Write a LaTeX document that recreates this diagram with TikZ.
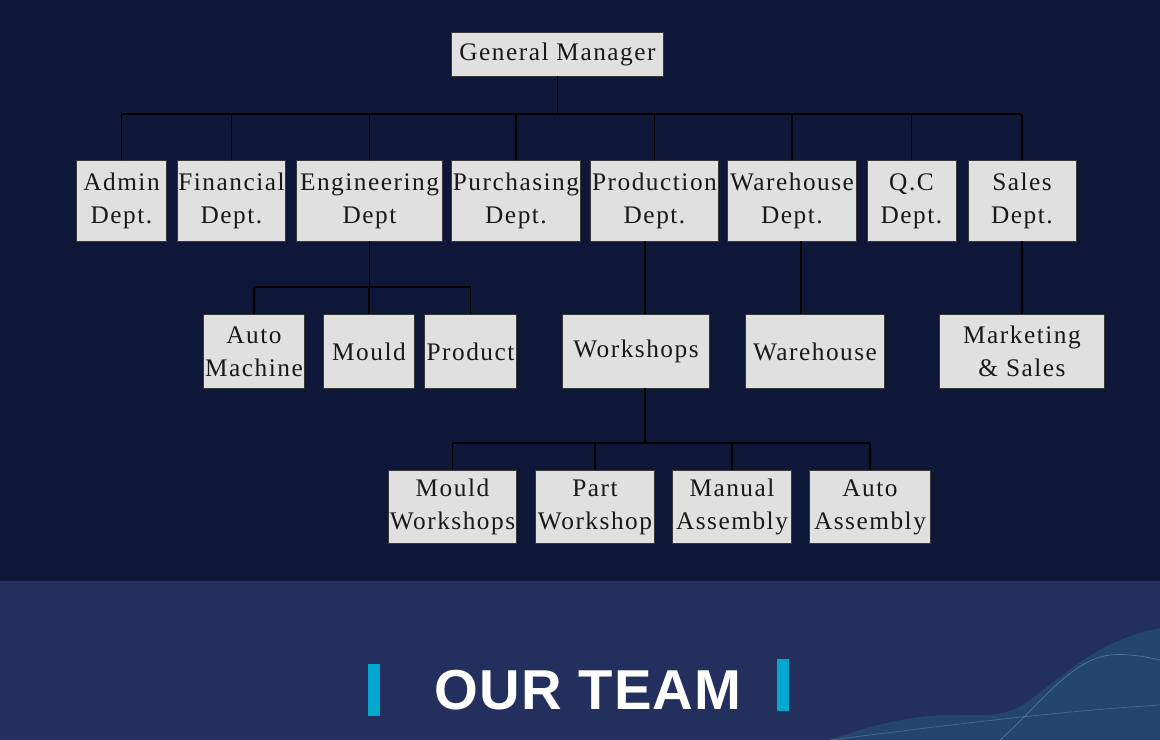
\documentclass[tikz,border=0pt]{standalone}
\usepackage{fontspec}
\usepackage{xcolor}
\usepackage{tikz}
\usetikzlibrary{positioning, calc}
\newfontfamily\boxfont[LetterSpace=6]{Liberation Serif}
\newfontfamily\teamfont[LetterSpace=2]{Liberation Sans}
\definecolor{nightblue}{RGB}{14, 23, 55}
\definecolor{bandblue}{RGB}{35, 47, 92}
\definecolor{boxgray}{RGB}{224, 224, 224}
\definecolor{edgegray}{RGB}{55, 55, 55}
\definecolor{barcyan}{RGB}{0, 168, 208}
\definecolor{waveteal}{RGB}{40, 112, 138}
\tikzstyle{unit} = [
    rectangle,
    inner sep=0pt,
    align=center,
    draw=edgegray,
    line width=0.7pt,
    fill=boxgray,
    text=black!90,
    font=\boxfont\fontsize{18}{23.5}\selectfont
]
\tikzstyle{link} = [
    line width=0.9pt,
    color=black
]

\begin{document}
\begin{tikzpicture}[x=0.025cm, y=-0.025cm]
        \useasboundingbox (0,0) rectangle (1160,740);
        % Background
        \fill[nightblue] (0,0) rectangle (1160,581);
        \fill[bandblue] (0,581) rectangle (1160,740);
        \fill[waveteal, opacity=0.35] (830,740) .. controls (880,722) and (920,714) .. (960,715)
            .. controls (1000,716) and (1010,714) .. (1030,700)
            .. controls (1070,670) and (1100,640) .. (1160,628) -- (1160,740) -- cycle;
        \draw[waveteal!60!white, opacity=0.5, line width=0.5pt] (1000,740) .. controls (1040,705) and (1070,660) .. (1110,655)
            .. controls (1130,653) and (1150,658) .. (1160,660);
        \draw[waveteal!60!white, opacity=0.4, line width=0.5pt] (830,740) .. controls (950,725) and (1050,712) .. (1160,705);

        % Units
        \node[unit, minimum width=5.275cm, minimum height=1.075cm] (gm) at (557.5,54.5) {General Manager};
        \node[unit, minimum width=2.225cm, minimum height=2cm] (admin) at (121.5,201) {Admin\\Dept.};
        \node[unit, minimum width=2.675cm, minimum height=2cm] (finance) at (231.5,201) {Financial\\Dept.};
        \node[unit, minimum width=3.625cm, minimum height=2cm] (eng) at (369.5,201) {Engineering\\Dept};
        \node[unit, minimum width=3.2cm, minimum height=2cm] (purchase) at (516,201) {Purchasing\\Dept.};
        \node[unit, minimum width=3.175cm, minimum height=2cm] (prod) at (654.5,201) {Production\\Dept.};
        \node[unit, minimum width=3.2cm, minimum height=2cm] (store) at (792,201) {Warehouse\\Dept.};
        \node[unit, minimum width=2.225cm, minimum height=2cm] (qc) at (911.5,201) {Q.C\\Dept.};
        \node[unit, minimum width=2.7cm, minimum height=2cm] (sales) at (1022,201) {Sales\\Dept.};

        \node[unit, minimum width=2.5cm, minimum height=1.825cm] (automach) at (254,351.5) {Auto\\Machine};
        \node[unit, minimum width=2.25cm, minimum height=1.825cm] (mould) at (369,351.5) {Mould};
        \node[unit, minimum width=2.275cm, minimum height=1.825cm] (product) at (470.5,351.5) {Product};
        \node[unit, minimum width=3.65cm, minimum height=1.825cm] (shops) at (636,351.5) {Workshops};
        \node[unit, minimum width=3.45cm, minimum height=1.825cm] (house) at (815,351.5) {Warehouse};
        \node[unit, minimum width=4.1cm, minimum height=1.825cm] (market) at (1022,351.5) {Marketing\\\& Sales};

        \node[unit, minimum width=3.175cm, minimum height=1.8cm] (mouldshop) at (452.5,507) {Mould\\Workshops};
        \node[unit, minimum width=2.95cm, minimum height=1.8cm] (partshop) at (595,507) {Part\\Workshop};
        \node[unit, minimum width=2.95cm, minimum height=1.8cm] (manual) at (732,507) {Manual\\Assembly};
        \node[unit, minimum width=3cm, minimum height=1.8cm] (autoasm) at (870,507) {Auto\\Assembly};

        % Links
        \coordinate (topbus) at (0,114);
        \coordinate (engbus) at (0,287);
        \coordinate (shopbus) at (0,443);
        \coordinate (shopx) at (645,0);
        \coordinate (housex) at (801,0);
        \draw[link] (gm.south) -- (gm.south |- topbus);
        \draw[link] (admin.north |- topbus) -- (sales.north |- topbus);
        \foreach \n in {admin, finance, eng, purchase, prod, store, qc, sales}
            \draw[link] (\n.north) -- (\n.north |- topbus);
        \draw[link] (eng.south) -- (eng.south |- engbus);
        \draw[link] (automach.north |- engbus) -- (product.north |- engbus);
        \foreach \n in {automach, mould, product}
            \draw[link] (\n.north) -- (\n.north |- engbus);
        \draw[link] (prod.south -| shopx) -- (shops.north -| shopx);
        \draw[link] (store.south -| housex) -- (house.north -| housex);
        \draw[link] (sales.south) -- (market.north);
        \draw[link] (shops.south -| shopx) -- (shopbus -| shopx);
        \draw[link] (mouldshop.north |- shopbus) -- (autoasm.north |- shopbus);
        \foreach \n in {mouldshop, partshop, manual, autoasm}
            \draw[link] (\n.north) -- (\n.north |- shopbus);

        % Banner
        \fill[barcyan] (368,664) rectangle (380,716);
        \fill[barcyan] (777,659) rectangle (789,711);
        \node[text=white, inner sep=0pt, font=\teamfont\bfseries\fontsize{40}{40}\selectfont] (team) at (588,690) {OUR TEAM};
    \end{tikzpicture}
\end{document}
